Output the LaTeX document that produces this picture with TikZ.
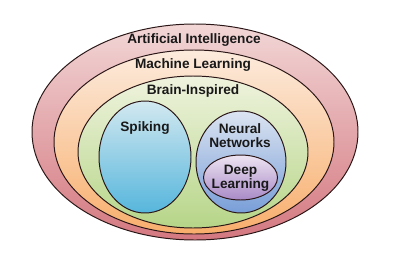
\documentclass[tikz,border=0pt]{standalone}
\usepackage{fontspec}
\setmainfont{Liberation Sans}
\definecolor{aiTop}{HTML}{F2D6D6}
\definecolor{aiBot}{HTML}{D47880}
\definecolor{mlTop}{HTML}{FCEBDD}
\definecolor{mlBot}{HTML}{F8AE6C}
\definecolor{biTop}{HTML}{EFF3DE}
\definecolor{biBot}{HTML}{B6D588}
\definecolor{spTop}{HTML}{D2E8F0}
\definecolor{spBot}{HTML}{56B6DC}
\definecolor{nnTop}{HTML}{DCE4F1}
\definecolor{nnBot}{HTML}{789ED8}
\definecolor{dlTop}{HTML}{EEE4F2}
\definecolor{dlBot}{HTML}{A88AC6}
\definecolor{rim}{HTML}{2A1616}
\tikzset{
  set/.style={draw=rim, line width=0.7pt},
  lbl/.style={font=\fontsize{9.7}{11.5}\selectfont\bfseries, text=black!90, align=center, inner sep=0pt}
}

\begin{document}
\begin{tikzpicture}[x=0.025cm,y=-0.025cm]
\useasboundingbox (0,0) rectangle (400,257);
% outer sets:
\draw[set, top color=aiTop, bottom color=aiBot] (195,132) ellipse [x radius=163, y radius=108];
\draw[set, top color=mlTop, bottom color=mlBot] (194,142) ellipse [x radius=140, y radius=92];
\draw[set, top color=biTop, bottom color=biBot] (193,152) ellipse [x radius=115, y radius=76];
% inner sets:
\draw[set, top color=spTop, bottom color=spBot] (145,157) ellipse [x radius=46, y radius=56];
\draw[set, top color=nnTop, bottom color=nnBot] (241,162) ellipse [x radius=45, y radius=51];
\draw[set, top color=dlTop, bottom color=dlBot] (240.5,177.5) ellipse [x radius=37, y radius=22.5];
% labels:
\node[lbl] (ai) at (194,40) {Artificial Intelligence};
\node[lbl] (ml) at (193,65) {Machine Learning};
\node[lbl] (bi) at (193,91) {Brain-Inspired};
\node[lbl] (sp) at (145,128) {Spiking};
\node[lbl] (nn) at (240,135.5) {Neural\\[-1.5pt]Networks};
\node[lbl] (dl) at (240.5,178) {Deep\\[-1.5pt]Learning};
\end{tikzpicture}
\end{document}
